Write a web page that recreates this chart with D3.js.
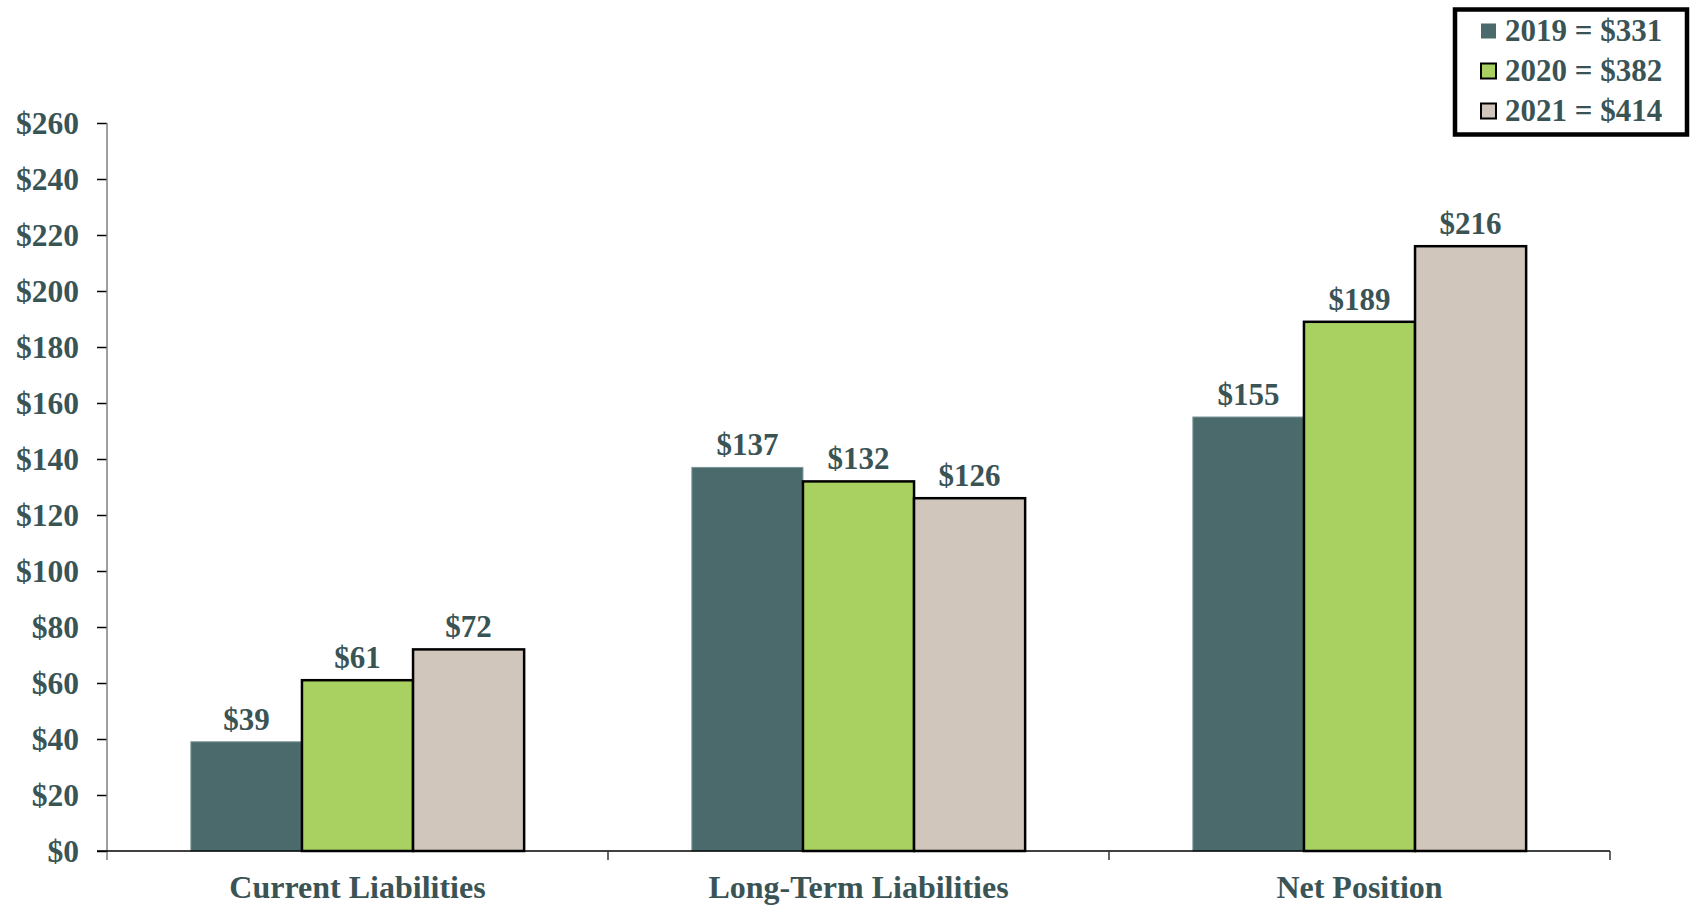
<!DOCTYPE html>
<html>
<head>
<meta charset="utf-8">
<script src="https://cdn.jsdelivr.net/npm/d3@7"></script>
<style>
  body { margin: 0; background: #fff; }
  svg text { font-family: "Liberation Serif", "Times New Roman", serif; font-weight: bold; }
</style>
</head>
<body>
<div id="chart"></div>
<script>
// data
const categories = ['Current Liabilities', 'Long-Term Liabilities', 'Net Position'];
const years = ['2019', '2020', '2021'];
const values2019 = [39, 137, 155];
const values2020 = [61, 132, 189];
const values2021 = [72, 126, 216];
const totals = [331, 382, 414];
const yTicks = [0, 20, 40, 60, 80, 100, 120, 140, 160, 180, 200, 220, 240, 260];

const WIDTH = 1701, HEIGHT = 907;
const MARGINS = { top: 123, bottom: 56, left: 107, right: 91 };
const TEXT = '#3a5456';

const color = d3.scaleOrdinal().domain(years).range(['#4b6a6c', '#a8d162', '#d0c6bc']);
const stroke = d3.scaleOrdinal().domain(years).range(['#7d9798', '#000', '#000']);
const strokeW = d3.scaleOrdinal().domain(years).range([1, 2.5, 2.5]);

const series = years.map((y, i) => ({ year: y, values: [values2019, values2020, values2021][i] }));
const rows = categories.map((c, ci) => ({
  category: c,
  bars: series.map(s => ({ year: s.year, value: s.values[ci] }))
}));

const svg = d3.select('#chart').append('svg')
  .attr('width', WIDTH)
  .attr('height', HEIGHT);

const x0 = d3.scaleBand()
  .domain(categories)
  .range([MARGINS.left, WIDTH - MARGINS.right])
  .padding(0);
const x1 = d3.scaleBand()
  .domain(years)
  .range([0, x0.bandwidth()])
  .paddingInner(0)
  .paddingOuter(0.755);
const yScale = d3.scaleLinear()
  .domain([0, 260])
  .range([HEIGHT - MARGINS.bottom, MARGINS.top]);

// Y axis
const yAxis = svg.append('g')
  .attr('transform', `translate(${MARGINS.left},0)`)
  .call(d3.axisLeft(yScale).tickValues(yTicks).tickSize(10).tickPadding(18)
    .tickFormat(d => '$' + d));
yAxis.select('.domain').remove();
yAxis.selectAll('line').attr('stroke', '#000').attr('stroke-width', 1.5);
yAxis.selectAll('text')
  .attr('fill', TEXT)
  .attr('font-size', '31.5px')
  .attr('font-family', '"Liberation Serif", "Times New Roman", serif');
svg.append('line')
  .attr('x1', MARGINS.left).attr('x2', MARGINS.left)
  .attr('y1', yScale(260)).attr('y2', yScale(0) + 9)
  .attr('stroke', '#7f7f7f').attr('stroke-width', 1.5);

// Bars
const groups = svg.selectAll('g.group')
  .data(rows)
  .join('g')
    .attr('class', 'group')
    .attr('transform', d => `translate(${x0(d.category)},0)`);

groups.selectAll('rect')
  .data(d => d.bars)
  .join('rect')
    .attr('x', d => x1(d.year))
    .attr('y', d => yScale(d.value))
    .attr('width', x1.bandwidth())
    .attr('height', d => yScale(0) - yScale(d.value))
    .attr('fill', d => color(d.year))
    .attr('stroke', d => stroke(d.year))
    .attr('stroke-width', d => strokeW(d.year));

groups.selectAll('text.val')
  .data(d => d.bars)
  .join('text')
    .attr('class', 'val')
    .attr('x', d => x1(d.year) + x1.bandwidth() / 2)
    .attr('y', d => yScale(d.value) - 12)
    .attr('text-anchor', 'middle')
    .attr('font-size', '31px')
    .attr('fill', TEXT)
    .text(d => '$' + d.value);

// X axis
svg.append('line')
  .attr('x1', MARGINS.left - 10).attr('x2', WIDTH - MARGINS.right)
  .attr('y1', yScale(0)).attr('y2', yScale(0))
  .attr('stroke', '#000').attr('stroke-width', 1.5);
const bounds = categories.map(c => x0(c)).concat([x0(categories[categories.length - 1]) + x0.bandwidth()]);
svg.selectAll('line.xtick')
  .data(bounds.slice(1))
  .join('line')
    .attr('class', 'xtick')
    .attr('x1', d => d).attr('x2', d => d)
    .attr('y1', yScale(0)).attr('y2', yScale(0) + 9)
    .attr('stroke', '#333').attr('stroke-width', 1.5);
svg.selectAll('text.cat')
  .data(categories)
  .join('text')
    .attr('class', 'cat')
    .attr('x', d => x0(d) + x0.bandwidth() / 2)
    .attr('y', yScale(0) + 47)
    .attr('text-anchor', 'middle')
    .attr('font-size', '32px')
    .attr('fill', TEXT)
    .text(d => d);

// Legend
const legend = svg.append('g').attr('transform', 'translate(1455,9.5)');
legend.append('rect')
  .attr('width', 232).attr('height', 125)
  .attr('fill', '#fff').attr('stroke', '#000').attr('stroke-width', 4.5);
const items = legend.selectAll('g.item')
  .data(years)
  .join('g')
    .attr('class', 'item')
    .attr('transform', (d, i) => `translate(0,${i * 40})`);
items.append('rect')
  .attr('x', 26).attr('y', 14)
  .attr('width', 15).attr('height', 15)
  .attr('fill', d => color(d))
  .attr('stroke', (d, i) => i === 0 ? 'none' : '#000')
  .attr('stroke-width', 2);
items.append('text')
  .attr('x', 50).attr('y', 31)
  .attr('font-size', '31px')
  .attr('fill', TEXT)
  .text((d, i) => `${d} = $${totals[i]}`);
</script>
</body>
</html>
